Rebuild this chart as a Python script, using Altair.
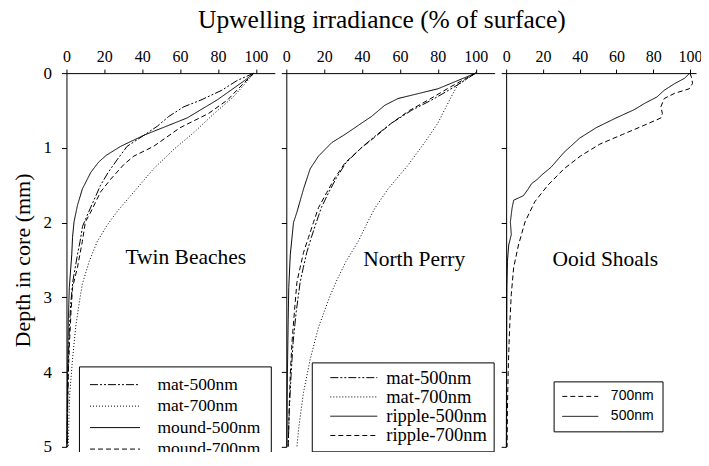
import altair as alt
import pandas as pd

SERIF = "Liberation Serif"
SANS = "Liberation Sans"

# ---------------- Twin Beaches ----------------
tb_mat500_depth = [0, 0.1, 0.23, 0.36, 0.45, 0.58, 0.71, 0.83, 0.98, 1.15, 1.33, 1.5, 1.7, 1.9, 2.05, 2.25, 2.43, 2.78, 3.1, 3.5, 4.0, 4.5, 5.0]
tb_mat500_val = [99, 90, 82, 71, 62, 54, 48, 41, 32, 27, 22, 18, 14.5, 11, 8.5, 7.2, 5.8, 3.4, 2.2, 1.4, 0.9, 0.6, 0.4]

tb_mat700_depth = [0, 0.15, 0.32, 0.54, 0.8, 1.02, 1.28, 1.59, 1.85, 2.03, 2.25, 2.52, 2.82, 3.0, 3.39, 3.83, 4.27, 4.6, 5.0]
tb_mat700_val = [99, 94, 88, 78, 67, 56.7, 46, 35.6, 26.8, 21.6, 16.3, 12, 8.4, 7.2, 4.9, 3.2, 1.8, 1.3, 1.0]

tb_mound500_depth = [0, 0.1, 0.36, 0.6, 0.83, 0.98, 1.1, 1.19, 1.33, 1.55, 1.77, 1.99, 2.2, 2.43, 2.87, 3.3, 4.0, 4.5, 5.0]
tb_mound500_val = [99, 94, 79.5, 63.7, 41, 28.6, 21, 17, 12.8, 8.4, 5.8, 4, 3.2, 2.8, 1.5, 1.0, 0.6, 0.4, 0.2]

tb_mound700_depth = [0, 0.15, 0.36, 0.54, 0.73, 0.98, 1.11, 1.22, 1.42, 1.59, 1.86, 1.99, 2.25, 2.6, 2.87, 3.2, 3.6, 4.0, 4.5, 5.0]
tb_mound700_val = [99, 93, 85, 75, 60, 46, 35.6, 30.4, 23.3, 18, 12.8, 10, 8.4, 5.8, 3.2, 2.4, 1.6, 1.0, 0.6, 0.3]

# ---------------- North Perry ----------------
np_mat500_depth = [0, 0.18, 0.35, 0.5, 0.67, 0.82, 1.0, 1.2, 1.4, 1.6, 1.8, 2.0, 2.2, 2.4, 2.6, 2.8, 3.2, 3.6, 4.0, 4.5, 5.0]
np_mat500_val = [100, 89, 77.5, 66, 55.5, 48, 39.5, 31.5, 26.5, 22.3, 18.5, 15.8, 13.2, 10.8, 9, 7.3, 5.2, 3.6, 2.6, 1.6, 1.0]

np_mat700_depth = [0, 0.16, 0.32, 0.67, 0.93, 1.24, 1.55, 1.81, 1.99, 2.25, 2.52, 2.78, 3.0, 3.4, 3.83, 4.27, 4.76, 5.0]
np_mat700_val = [100, 90.5, 87, 80, 73, 64, 53.7, 46.7, 43, 38, 31.5, 26.5, 22.8, 17, 12.6, 9.1, 6.5, 5.6]

np_ripple500_depth = [0, 0.21, 0.34, 0.43, 0.58, 0.67, 0.82, 0.93, 1.11, 1.28, 1.55, 1.86, 2.0, 2.43, 2.87, 3.3, 4.0, 4.5, 5.0]
np_ripple500_val = [100, 80, 59, 52, 45, 39.7, 31, 24, 17, 12.6, 9.1, 5.6, 3.8, 2.1, 1.3, 1.0, 0.6, 0.4, 0.3]

np_ripple700_depth = [0, 0.18, 0.35, 0.5, 0.67, 0.82, 1.0, 1.2, 1.4, 1.6, 1.8, 2.0, 2.2, 2.4, 2.6, 2.8, 3.16, 3.6, 4.03, 4.5, 5.0]
np_ripple700_val = [100, 87, 75.6, 65, 55.5, 48.5, 39.7, 31, 25.7, 21.3, 17, 14.3, 11.7, 9.1, 7.3, 5.6, 4.4, 3.0, 2.1, 1.5, 1.0]

# ---------------- Ooid Shoals ----------------
os_500_depth = [0, 0.07, 0.14, 0.23, 0.32, 0.4, 0.49, 0.6, 0.73, 0.87, 1.06, 1.26, 1.36, 1.42, 1.48, 1.55, 1.64, 1.7, 1.81, 1.99, 2.16, 2.3, 2.52, 2.87, 3.3, 4.0, 5.0]
os_500_val = [100, 97, 91.7, 86, 82, 75.7, 69.6, 59.8, 49, 40, 31.5, 24.4, 19.5, 17, 13.8, 12, 9.4, 4.1, 3.2, 2.3, 2.8, 1.4, 0.7, 0.4, 0.3, 0.2, 0.1]

os_700_depth = [0, 0.07, 0.14, 0.21, 0.27, 0.34, 0.45, 0.54, 0.6, 0.71, 0.82, 0.95, 1.11, 1.28, 1.5, 1.72, 1.99, 2.3, 2.6, 2.96, 3.3, 3.6, 4.0, 4.5, 5.0]
os_700_val = [100, 101, 101.4, 99.6, 91.7, 86, 84.2, 85, 84.2, 74, 63.4, 51, 40.4, 31.5, 22.7, 15.6, 10.3, 6.7, 4.1, 2.8, 2.1, 1.6, 1.1, 0.7, 0.5]

# series names / dash styles
tb_names = ["mat-500nm", "mat-700nm", "mound-500nm", "mound-700nm"]
np_names = ["mat-500nm", "mat-700nm", "ripple-500nm", "ripple-700nm"]
os_names = ["700nm", "500nm"]
dash_four = [[8, 2, 2, 2, 2, 2], [1, 2], [1, 0], [5, 3]]
dash_two = [[5, 3], [1, 0]]

site_names = ["Twin Beaches", "North Perry", "Ooid Shoals"]
site_label_x = [63, 67.5, 54]
site_label_depth = [2.48, 2.5, 2.5]

x_ticks = [0, 20, 40, 60, 80, 100]
y_ticks = [0, 1, 2, 3, 4, 5]


def frame(names, series):
    rows = []
    for name, (d, v) in zip(names, series):
        for dd, vv in zip(d, v):
            rows.append({"series": name, "depth": dd, "irr": vv})
    return pd.DataFrame(rows)


tb_df = frame(tb_names, [(tb_mat500_depth, tb_mat500_val), (tb_mat700_depth, tb_mat700_val),
                         (tb_mound500_depth, tb_mound500_val), (tb_mound700_depth, tb_mound700_val)])
np_df = frame(np_names, [(np_mat500_depth, np_mat500_val), (np_mat700_depth, np_mat700_val),
                         (np_ripple500_depth, np_ripple500_val), (np_ripple700_depth, np_ripple700_val)])
os_df = frame(os_names, [(os_700_depth, os_700_val), (os_500_depth, os_500_val)])

H = 374


def panel(df, names, dashes, idx, xmax, width, first, legend):
    xenc = alt.X("irr:Q", scale=alt.Scale(domain=[0, xmax], nice=False, zero=False),
                 axis=alt.Axis(orient="top", values=x_ticks, title=None, tickSize=4,
                               labelPadding=5, labelFontSize=16, labelFont=SERIF,
                               labelFlush=False, labelOverlap=False, labelBound=False,
                               format="d"))
    yenc = alt.Y("depth:Q", scale=alt.Scale(domain=[0, 5], reverse=True, nice=False, zero=False),
                 axis=alt.Axis(values=y_ticks, labels=first, tickSize=5, labelPadding=10,
                               labelFontSize=17, labelFont=SERIF, format="d",
                               title="Depth in core (mm)" if first else None,
                               titleFont=SERIF, titleFontSize=22, titleFontWeight="normal",
                               titlePadding=8))
    lines = alt.Chart(df).mark_line(color="black", strokeWidth=1).encode(
        x=xenc, y=yenc,
        strokeDash=alt.StrokeDash("series:N", scale=alt.Scale(domain=names, range=dashes),
                                  legend=legend),
        order=alt.Order("depth:Q"),
    )
    lab = pd.DataFrame({"irr": [site_label_x[idx]], "depth": [site_label_depth[idx]],
                        "label": [site_names[idx]]})
    text = alt.Chart(lab).mark_text(font=SERIF, fontSize=21.5, color="black").encode(
        x=xenc, y=yenc, text="label:N")
    return alt.layer(lines, text).properties(width=width, height=H)


def legend(x, y, pad, font, size, offset, row, sym_path):
    return alt.Legend(orient="none", legendX=x, legendY=y, title=None, direction="vertical",
                      fillColor="white", strokeColor="black", padding=pad,
                      labelFont=font, labelFontSize=size, labelColor="black",
                      labelOffset=offset, symbolType=sym_path, symbolSize=100,
                      symbolStrokeWidth=1, symbolStrokeColor="black",
                      symbolFillColor="transparent", rowPadding=row)


leg1 = legend(12.5, 293.5, 9.5, SERIF, 17.5, 51.5, 2.5, "M-1.44,0H8.56")
leg2 = legend(25.5, 289.5, 6, SERIF, 18.5, 50, 0.3, "M0.66,0H10.06")
leg3 = legend(47.5, 308.5, 8, SANS, 14, 35.3, 6, "M-1.26,0H5.94")

p1 = panel(tb_df, tb_names, dash_four, 0, 110, 208.5, True, leg1)
p2 = panel(np_df, np_names, dash_four, 1, 110, 208.5, False, leg2)
p3 = panel(os_df, os_names, dash_two, 2, 103.3, 190, False, leg3)

chart = alt.hconcat(p1, p2, p3, spacing=11, bounds="flush").resolve_scale(
    x="independent", strokeDash="independent").resolve_legend(strokeDash="independent").properties(
    title=alt.TitleParams("Upwelling irradiance (% of surface)", font=SERIF, fontSize=25.5,
                          fontWeight="normal", color="black", anchor="middle",
                          offset=14.5, dx=25),
    padding={"left": 3.5, "top": 0, "right": -1, "bottom": -16},
).configure_view(stroke=None).configure_axis(
    grid=False, domainColor="black", tickColor="black", labelColor="black",
    titleColor="black", domainWidth=1, tickWidth=1, labelOverlap=False,
)

chart.save("out.html", embed_options={"renderer": "svg", "actions": False})
